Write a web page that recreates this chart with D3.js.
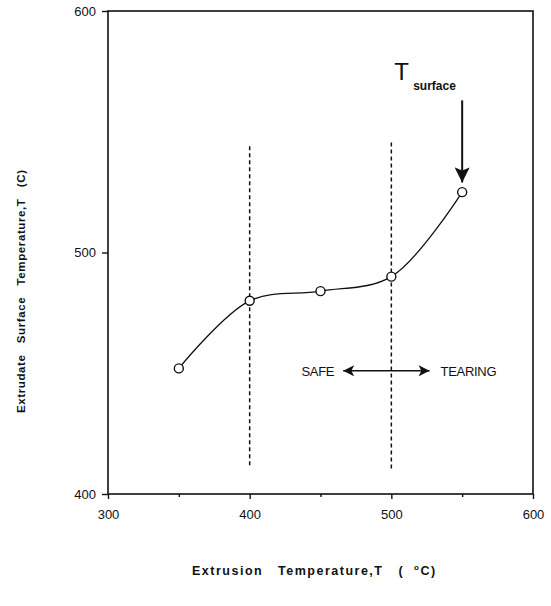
<!DOCTYPE html>
<html>
<head>
<meta charset="utf-8">
<script src="https://cdn.jsdelivr.net/npm/d3@7"></script>
<style>
  body { margin: 0; background: #fff; }
  svg text { font-family: "Liberation Sans", Arial, sans-serif; fill: #111; }
  .tick-label { font-size: 13px; }
  .axis-title { font-size: 11.5px; font-weight: bold; letter-spacing: 0.6px; white-space: pre; }
  .note { font-size: 13px; }
</style>
</head>
<body>
<div class="svg-container"></div>
<script>
document.addEventListener("DOMContentLoaded", () => {

  // data
  let extrusionTemp = [350, 400, 450, 500, 550];
  let surfaceTemp = [452, 480, 484, 490, 525];
  let xTicks = [300, 400, 500, 600];
  let xMinorTicks = [350, 450, 550];
  let yTicks = [400, 500, 600];
  // dashed boundary lines (x, and their vertical extent)
  let boundaryTemps = [400, 500];
  let boundaryTop = [544, 545.5];
  let boundaryBottom = [411, 409.5];

  let width = 551,
  height = 606;

  let svg = d3.select(".svg-container").append("svg")
    .attr("width", width)
    .attr("height", height);

  const xScale = d3.scaleLinear().domain([300, 600]).range([108, 533]);
  const yScale = d3.scaleLinear().domain([400, 600]).range([494, 11]);

  //frame
  svg.append("rect")
    .attr("x", xScale(300))
    .attr("y", yScale(600))
    .attr("width", xScale(600) - xScale(300))
    .attr("height", yScale(400) - yScale(600))
    .attr("fill", "none")
    .attr("stroke", "#111")
    .attr("stroke-width", 1.6);

  //x axis
  const xAxis = d3.axisBottom(xScale)
    .tickValues(xTicks)
    .tickSize(5)
    .tickSizeOuter(0)
    .tickPadding(11)
    .tickFormat(d3.format("d"));

  let gx = svg.append("g")
    .attr("transform", "translate(0," + yScale(400) + ")")
    .call(xAxis);
  gx.select(".domain").remove();

  svg.append("g")
    .attr("transform", "translate(0," + yScale(400) + ")")
    .call(d3.axisBottom(xScale).tickValues(xMinorTicks).tickSize(3).tickFormat(""))
    .select(".domain").remove();

  //y axis
  const yAxis = d3.axisLeft(yScale)
    .tickValues(yTicks)
    .tickSize(6)
    .tickSizeOuter(0)
    .tickPadding(6)
    .tickFormat(d3.format("d"));

  let gy = svg.append("g")
    .attr("transform", "translate(" + xScale(300) + ",0)")
    .call(yAxis);
  gy.select(".domain").remove();

  svg.selectAll(".tick line").attr("stroke", "#111").attr("stroke-width", 1.4);
  svg.selectAll(".tick text")
    .attr("class", "tick-label")
    .attr("font-family", null)
    .attr("font-size", null);

  //dashed boundaries
  svg.selectAll(".boundary")
    .data(boundaryTemps)
    .enter()
    .append("line")
    .attr("class", "boundary")
    .attr("x1", d => xScale(d))
    .attr("x2", d => xScale(d))
    .attr("y1", (d, i) => yScale(boundaryTop[i]))
    .attr("y2", (d, i) => yScale(boundaryBottom[i]))
    .attr("stroke", "#111")
    .attr("stroke-width", 1.5)
    .attr("stroke-dasharray", "4,3");

  //curve
  let points = extrusionTemp.map((t, i) => [t, surfaceTemp[i]]);
  const line = d3.line()
    .x(d => xScale(d[0]))
    .y(d => yScale(d[1]))
    .curve(d3.curveCatmullRom.alpha(0.5));

  svg.append("path")
    .datum(points)
    .attr("d", line)
    .attr("fill", "none")
    .attr("stroke", "#111")
    .attr("stroke-width", 1.3);

  svg.selectAll(".pt")
    .data(points)
    .enter()
    .append("circle")
    .attr("class", "pt")
    .attr("cx", d => xScale(d[0]))
    .attr("cy", d => yScale(d[1]))
    .attr("r", 4.5)
    .attr("fill", "#fff")
    .attr("stroke", "#111")
    .attr("stroke-width", 1.4);

  //arrowheads
  let defs = svg.append("defs");
  defs.append("marker")
    .attr("id", "head")
    .attr("viewBox", "0 0 10 10")
    .attr("refX", 10)
    .attr("refY", 5)
    .attr("markerUnits", "userSpaceOnUse")
    .attr("markerWidth", 14)
    .attr("markerHeight", 11)
    .attr("orient", "auto-start-reverse")
    .append("path")
    .attr("d", "M0,0 L10,5 L0,10 L2.5,5 Z")
    .attr("fill", "#111");

  defs.append("marker")
    .attr("id", "bighead")
    .attr("viewBox", "0 0 10 10")
    .attr("refX", 10)
    .attr("refY", 5)
    .attr("markerUnits", "userSpaceOnUse")
    .attr("markerWidth", 17)
    .attr("markerHeight", 15)
    .attr("orient", "auto")
    .append("path")
    .attr("d", "M0,0 L10,5 L0,10 L2,5 Z")
    .attr("fill", "#111");

  //T surface annotation
  svg.append("text")
    .text("T")
    .attr("x", xScale(550) - 68)
    .attr("y", 80)
    .attr("font-size", "24px");

  svg.append("text")
    .text("surface")
    .attr("x", xScale(550) - 49)
    .attr("y", 90)
    .attr("font-size", "12px")
    .attr("font-weight", "bold");

  svg.append("line")
    .attr("x1", xScale(550))
    .attr("x2", xScale(550))
    .attr("y1", yScale(563))
    .attr("y2", yScale(529))
    .attr("stroke", "#111")
    .attr("stroke-width", 2)
    .attr("marker-end", "url(#bighead)");

  //SAFE <-> TEARING
  svg.append("line")
    .attr("x1", xScale(466))
    .attr("x2", xScale(527))
    .attr("y1", yScale(451))
    .attr("y2", yScale(451))
    .attr("stroke", "#111")
    .attr("stroke-width", 1.5)
    .attr("marker-start", "url(#head)")
    .attr("marker-end", "url(#head)");

  svg.append("text")
    .text("SAFE")
    .attr("class", "note")
    .attr("x", xScale(466) - 9)
    .attr("y", yScale(451) + 5)
    .attr("text-anchor", "end")
    .style("letter-spacing", "-0.3px");

  svg.append("text")
    .text("TEARING")
    .attr("class", "note")
    .attr("x", xScale(527) + 11)
    .attr("y", yScale(451) + 5)
    .style("letter-spacing", "-0.3px");

  //axis titles
  let xt = svg.append("text")
    .attr("class", "axis-title")
    .attr("x", 192)
    .attr("y", 575)
    .style("font-size", "12.5px")
    .style("letter-spacing", "1.5px");
  xt.append("tspan").text("Extrusion   Temperature,T   (  ");
  xt.append("tspan").style("font-size", "8px").attr("dy", -5).text("o");
  xt.append("tspan").attr("dy", 5).text("C)");

  svg.append("text")
    .attr("class", "axis-title")
    .attr("transform", "translate(25,413) rotate(-90)")
    .attr("x", 0)
    .attr("y", 0)
    .text("Extrudate   Surface   Temperature,T   (C)");

});
</script>
</body>
</html>
